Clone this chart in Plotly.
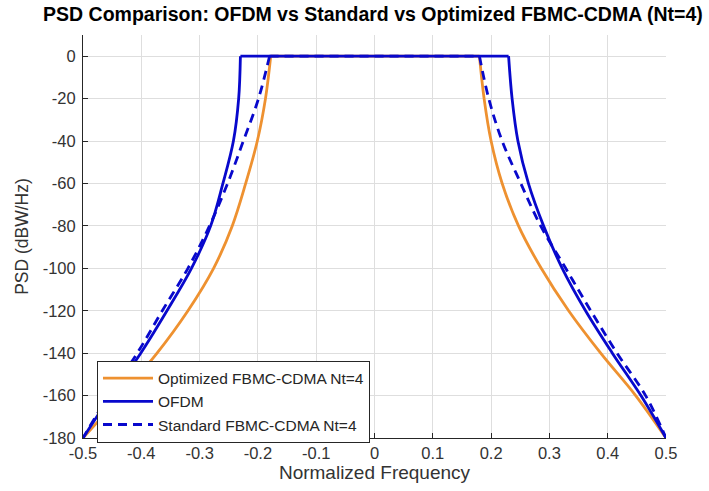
import plotly.graph_objects as go

# ---- data ----
psd_levels_db = [0, -20, -40, -60, -80, -100, -120, -140, -160, -180]

# OFDM skirts (normalized frequency at each PSD level)
ofdm_left_f  = [-0.230, -0.233, -0.242, -0.260, -0.281, -0.314, -0.356, -0.401, -0.452, -0.500]
ofdm_right_f = [0.230, 0.236, 0.246, 0.264, 0.290, 0.322, 0.362, 0.408, 0.457, 0.500]

# Standard FBMC-CDMA Nt=4 skirts
std_left_f  = [-0.180, -0.199, -0.225, -0.252, -0.283, -0.320, -0.364, -0.407, -0.456, -0.500]
std_right_f = [0.180, 0.196, 0.219, 0.251, 0.285, 0.328, 0.371, 0.416, 0.465, 0.500]

# Optimized FBMC-CDMA Nt=4 skirts
opt_left_f  = [-0.178, -0.187, -0.201, -0.221, -0.244, -0.276, -0.320, -0.373, -0.435, -0.500]
opt_right_f = [0.180, 0.188, 0.200, 0.219, 0.247, 0.286, 0.333, 0.388, 0.448, 0.500]

passband_db = 0

x_tick_vals = [-0.5, -0.4, -0.3, -0.2, -0.1, 0, 0.1, 0.2, 0.3, 0.4, 0.5]
x_tick_text = ["-0.5", "-0.4", "-0.3", "-0.2", "-0.1", "0", "0.1", "0.2", "0.3", "0.4", "0.5"]
y_tick_vals = [0, -20, -40, -60, -80, -100, -120, -140, -160, -180]
y_tick_text = ["0", "-20", "-40", "-60", "-80", "-100", "-120", "-140", "-160", "-180"]

ORANGE = "#EE9130"
BLUE = "#0808CC"
FONT = "Liberation Sans, Arial, sans-serif"

fig = go.Figure()


def add_series(name, left_f, right_f, color, dash, group):
    # left skirt
    fig.add_trace(go.Scatter(
        x=left_f, y=psd_levels_db, mode="lines", name=name,
        line=dict(color=color, width=2.8, dash=dash, shape="spline", smoothing=1.0),
        legendgroup=group, showlegend=True, hoverinfo="skip"))
    # flat passband
    fig.add_trace(go.Scatter(
        x=[left_f[0], right_f[0]], y=[passband_db, passband_db], mode="lines", name=name,
        line=dict(color=color, width=2.8, dash=dash),
        legendgroup=group, showlegend=False, hoverinfo="skip"))
    # right skirt
    fig.add_trace(go.Scatter(
        x=right_f, y=psd_levels_db, mode="lines", name=name,
        line=dict(color=color, width=2.8, dash=dash, shape="spline", smoothing=1.0),
        legendgroup=group, showlegend=False, hoverinfo="skip"))


add_series("Optimized FBMC-CDMA Nt=4", opt_left_f, opt_right_f, ORANGE, "solid", "opt")
add_series("OFDM", ofdm_left_f, ofdm_right_f, BLUE, "solid", "ofdm")
add_series("Standard FBMC-CDMA Nt=4", std_left_f, std_right_f, BLUE, "9px,6px", "std")

axis_common = dict(
    showgrid=True, gridcolor="#DEDEDE", gridwidth=1,
    zeroline=False, showline=True, linecolor="#262626", linewidth=1,
    ticks="inside", ticklen=5, tickcolor="#262626",
    tickfont=dict(family=FONT, size=16.5, color="#333333"),
    mirror=False,
)

fig.update_layout(
    width=709, height=491,
    margin=dict(l=83, r=43, t=35, b=53),
    paper_bgcolor="white", plot_bgcolor="white",
    title=dict(
        text="<b>PSD Comparison: OFDM vs Standard vs Optimized FBMC-CDMA (Nt=4)</b>",
        x=0.526, xanchor="center", y=0.972, yanchor="middle",
        font=dict(family=FONT, size=19.5, color="#000000")),
    xaxis=dict(
        range=[-0.5, 0.5], tickvals=x_tick_vals, ticktext=x_tick_text,
        title=dict(text="Normalized Frequency", font=dict(family=FONT, size=19, color="#333333"), standoff=2),
        **axis_common),
    yaxis=dict(
        range=[-180, 10], tickvals=y_tick_vals, ticktext=y_tick_text,
        ticklabelstandoff=3,
        title=dict(text="PSD (dBW/Hz)", font=dict(family=FONT, size=17.5, color="#333333"), standoff=9),
        **axis_common),
    legend=dict(
        x=0.024, y=0.192, xanchor="left", yanchor="top",
        bgcolor="white", bordercolor="#262626", borderwidth=1,
        font=dict(family=FONT, size=15.5, color="#262626"),
        itemwidth=50, tracegroupgap=0,
    ),
    showlegend=True,
)

fig.write_html("out.html")
